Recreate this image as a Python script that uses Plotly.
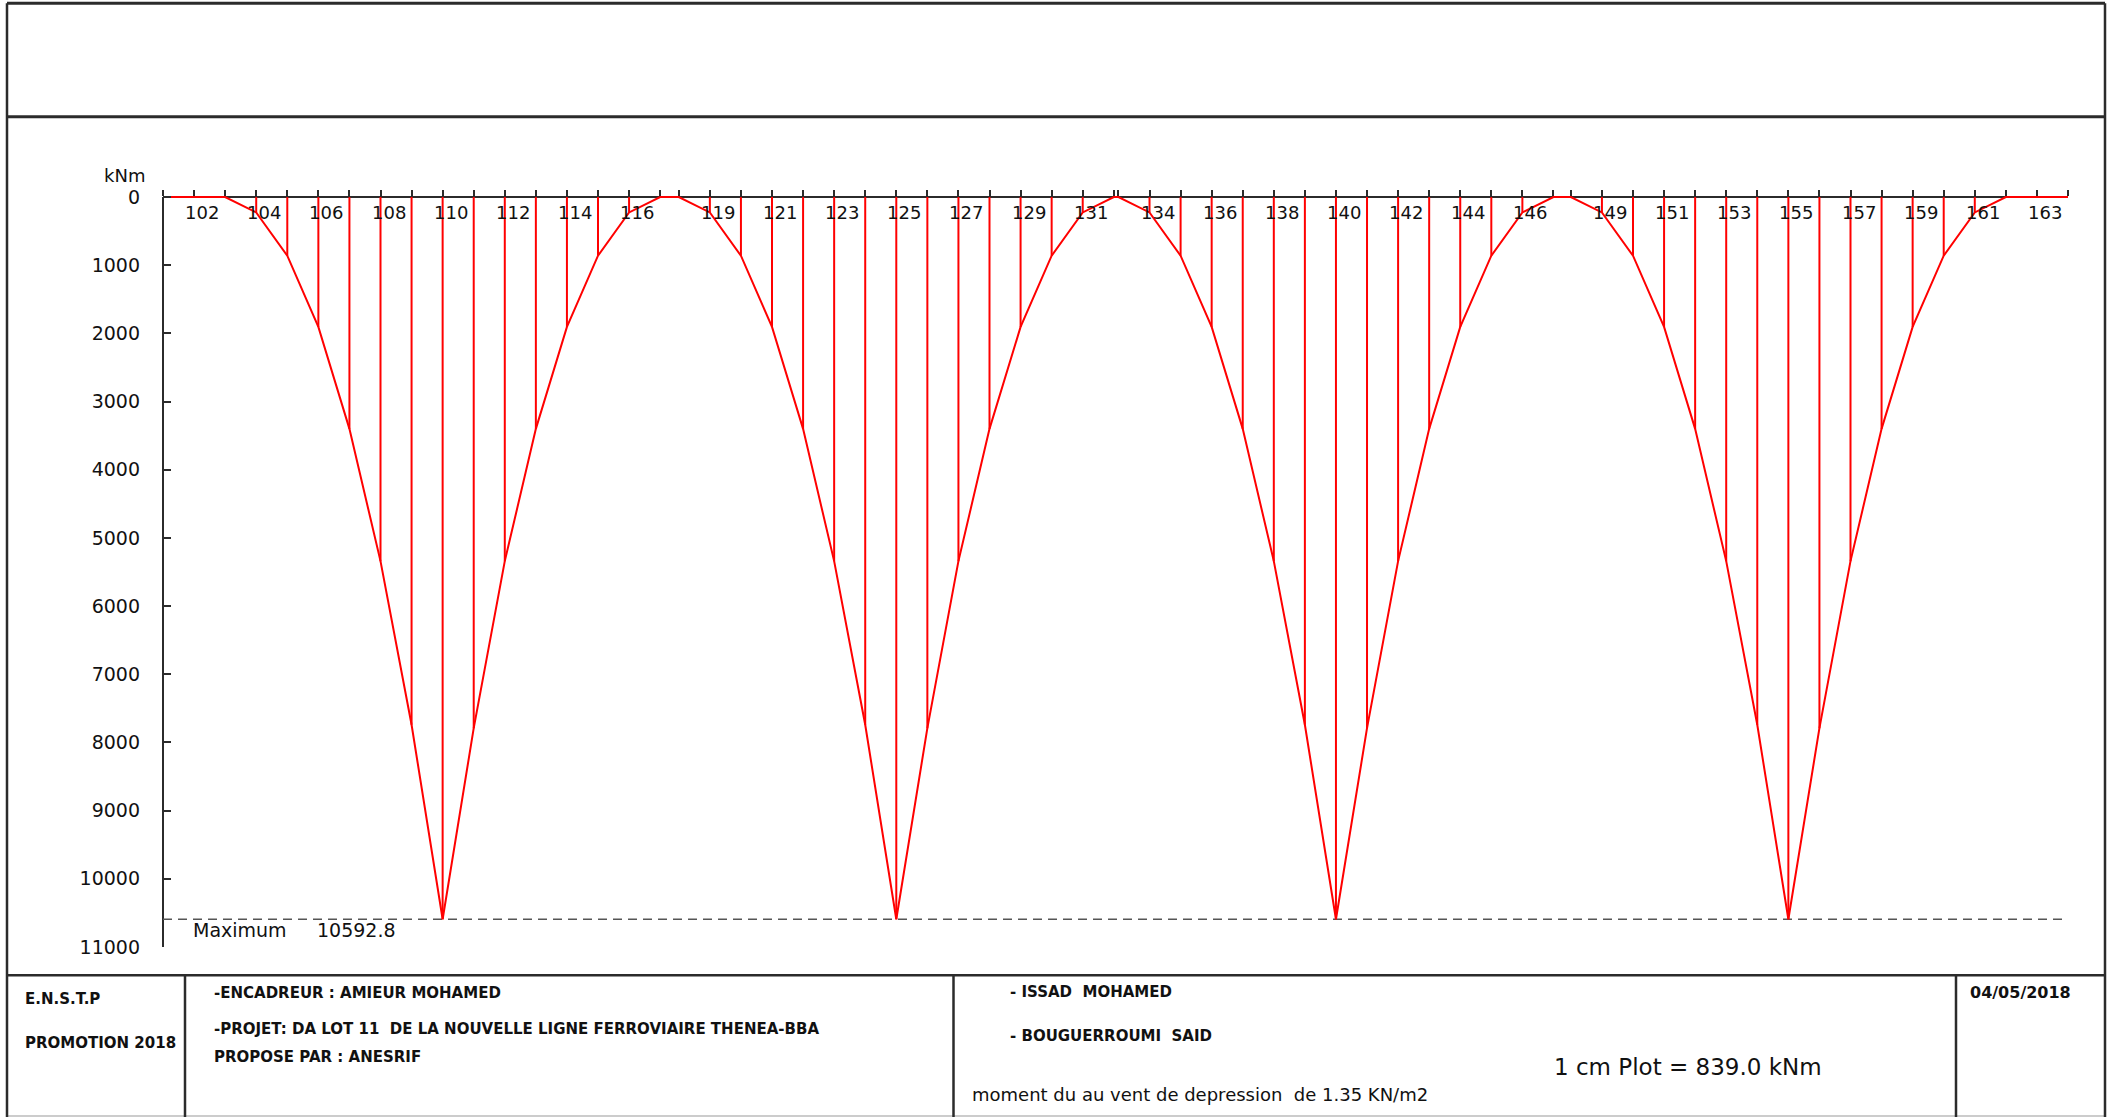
import plotly.graph_objects as go

# ---------------- data ----------------
node_ids = list(range(101, 165))
# node abscissae (regular spacing = 1, short gaps at the supports)
node_x = [0, 1, 2, 3, 4, 5, 6, 7, 8, 9, 10, 11, 12, 13, 14, 15, 16,
          16.6, 17.6, 18.6, 19.6, 20.6, 21.6, 22.6, 23.6, 24.6, 25.6, 26.6, 27.6, 28.6, 29.6, 30.6,
          30.75, 31.75, 32.75, 33.75, 34.75, 35.75, 36.75, 37.75, 38.75, 39.75, 40.75, 41.75, 42.75, 43.75, 44.75,
          45.31, 46.31, 47.31, 48.31, 49.31, 50.31, 51.31, 52.31, 53.31, 54.31, 55.31, 56.31, 57.31, 58.31, 59.31,
          60.31, 61.31]
# bending moment (kNm) at each node
moment = [0, 0, 0, 225, 860, 1905, 3400, 5340, 7740, 10592.8, 7790, 5340, 3400, 1905, 860, 225, 0,
          0, 225, 860, 1905, 3400, 5340, 7740, 10592.8, 7790, 5340, 3400, 1905, 860, 225, 0,
          0, 225, 860, 1905, 3400, 5340, 7740, 10592.8, 7790, 5340, 3400, 1905, 860, 225, 0,
          0, 225, 860, 1905, 3400, 5340, 7740, 10592.8, 7790, 5340, 3400, 1905, 860, 225, 0, 0, 0]
label_nodes = [102, 104, 106, 108, 110, 112, 114, 116,
               119, 121, 123, 125, 127, 129, 131,
               134, 136, 138, 140, 142, 144, 146,
               149, 151, 153, 155, 157, 159, 161, 163]
y_ticks = [0, 1000, 2000, 3000, 4000, 5000, 6000, 7000, 8000, 9000, 10000, 11000]
max_moment = 10592.8
y_unit = "kNm"

# ---------------- layout helpers (pixel -> paper) ----------------
W, H = 2111, 1117
PLOT_L, PLOT_R = 163.0, 2068.0
Y_TOP_PAD = 60.0
PLOT_B = 946.7
PX_PER_UNIT = (946.7 - 197.3) / 11000.0
PLOT_T = 197.3 - Y_TOP_PAD * PX_PER_UNIT


def PX(x):
    return (x - PLOT_L) / (PLOT_R - PLOT_L)


def PY(y):
    return (PLOT_B - y) / (PLOT_B - PLOT_T)


RED = "#ff0000"
INK = "#2b2b2b"
FONT = "DejaVu Sans"

fig = go.Figure()

# hatching verticals from axis to diagram
vx, vy = [], []
for x, m in zip(node_x, moment):
    vx += [x, x, None]
    vy += [0, m, None]
fig.add_trace(go.Scatter(x=vx, y=vy, mode="lines", line=dict(color=RED, width=2),
                         hoverinfo="skip", showlegend=False))
# diagram outline
fig.add_trace(go.Scatter(x=node_x, y=moment, mode="lines", line=dict(color=RED, width=2),
                         showlegend=False))

shapes = []


def hline(y, x0, x1, w=2.5, color=INK):
    shapes.append(dict(type="line", xref="paper", yref="paper", x0=PX(x0), x1=PX(x1),
                       y0=PY(y), y1=PY(y), line=dict(color=color, width=w), layer="above"))


def vline(x, y0, y1, w=2.5, color=INK):
    shapes.append(dict(type="line", xref="paper", yref="paper", x0=PX(x), x1=PX(x),
                       y0=PY(y0), y1=PY(y1), line=dict(color=color, width=w), layer="above"))


# drawing frame
hline(3.5, 7, 2105, 3)
hline(117, 7, 2105, 3)
hline(975, 7, 2105, 2.5)
hline(1115.5, 7, 2105, 1.5, "#bbbbbb")
vline(7, 3.5, 1117, 2.5)
vline(2105, 3.5, 1117, 2.5)
vline(185, 975, 1117, 2.5)
vline(953.5, 975, 1117, 2.5)
vline(1956, 975, 1117, 2.5)

# y axis line (0 .. 11000)
shapes.append(dict(type="line", xref="paper", yref="y", x0=0, x1=0, y0=y_ticks[0], y1=y_ticks[-1],
                   line=dict(color=INK, width=2), layer="below"))
# maximum dashed line
shapes.append(dict(type="line", xref="paper", yref="y", x0=0, x1=1, y0=max_moment, y1=max_moment,
                   line=dict(color="#555555", width=1.6, dash="9px,6px"), layer="below"))

annotations = []
# node labels below the axis line
for n in label_nodes:
    i = node_ids.index(n)
    annotations.append(dict(x=node_x[i], y=0, xref="x", yref="y", text=str(n), showarrow=False,
                            xanchor="center", yanchor="top", xshift=8, yshift=-3,
                            font=dict(family=FONT, size=18, color="#111111")))


def text(x, y, s, size=15, bold=True, anchor="left"):
    annotations.append(dict(x=PX(x), y=PY(y), xref="paper", yref="paper", text=s, showarrow=False,
                            xanchor=anchor, yanchor="middle",
                            font=dict(family=FONT, size=size, color="#111111",
                                      weight="bold" if bold else "normal")))


text(124, 176, y_unit, 18, False, "center")
text(191, 930, "Maximum", 19, False)
text(315, 930, f"{max_moment:.1f}", 19, False)

NB = "\u00a0"
text(23, 999, "E.N.S.T.P", 15)
text(23, 1043, "PROMOTION 2018", 15)
text(212, 993, "-ENCADREUR : AMIEUR MOHAMED", 15)
text(212, 1029, f"-PROJET: DA LOT 11 {NB}DE LA NOUVELLE LIGNE FERROVIAIRE THENEA-BBA", 15)
text(212, 1057, "PROPOSE PAR : ANESRIF", 15)
text(1008, 992, f"- ISSAD {NB}MOHAMED", 15)
text(1008, 1036, f"- BOUGUERROUMI {NB}SAID", 15)
text(970, 1094, f"moment du au vent de depression {NB}de 1.35 KN/m2", 18, False)
text(1968, 992, "04/05/2018", 16)
text(1688, 1067, "1 cm Plot = 839.0 kNm", 23, False, "center")

fig.update_layout(
    width=W, height=H,
    margin=dict(l=PLOT_L, r=W - PLOT_R, t=PLOT_T, b=H - PLOT_B, pad=0, autoexpand=False),
    paper_bgcolor="white", plot_bgcolor="white",
    showlegend=False,
    shapes=shapes,
    annotations=annotations,
    xaxis=dict(range=[node_x[0], node_x[-1]], autorange=False, showgrid=False, zeroline=False,
               anchor="free", position=11000 / (11000 + Y_TOP_PAD), side="top",
               showline=True, linecolor=INK, linewidth=2,
               tickmode="array", tickvals=node_x, ticks="outside", ticklen=6, tickwidth=2,
               tickcolor=INK, showticklabels=False, layer="below traces"),
    yaxis=dict(range=[y_ticks[-1], -Y_TOP_PAD], autorange=False, showgrid=False, zeroline=False,
               showline=False, tickmode="array", tickvals=y_ticks,
               ticktext=[str(v) for v in y_ticks],
               ticks="inside", ticklen=8, tickwidth=2, tickcolor=INK,
               ticklabelstandoff=22,
               tickfont=dict(family=FONT, size=19, color="#111111")),
)

fig.write_html("out.html", config={"displayModeBar": False},
               post_script="document.body.style.margin='0';document.body.style.overflow='hidden';")
